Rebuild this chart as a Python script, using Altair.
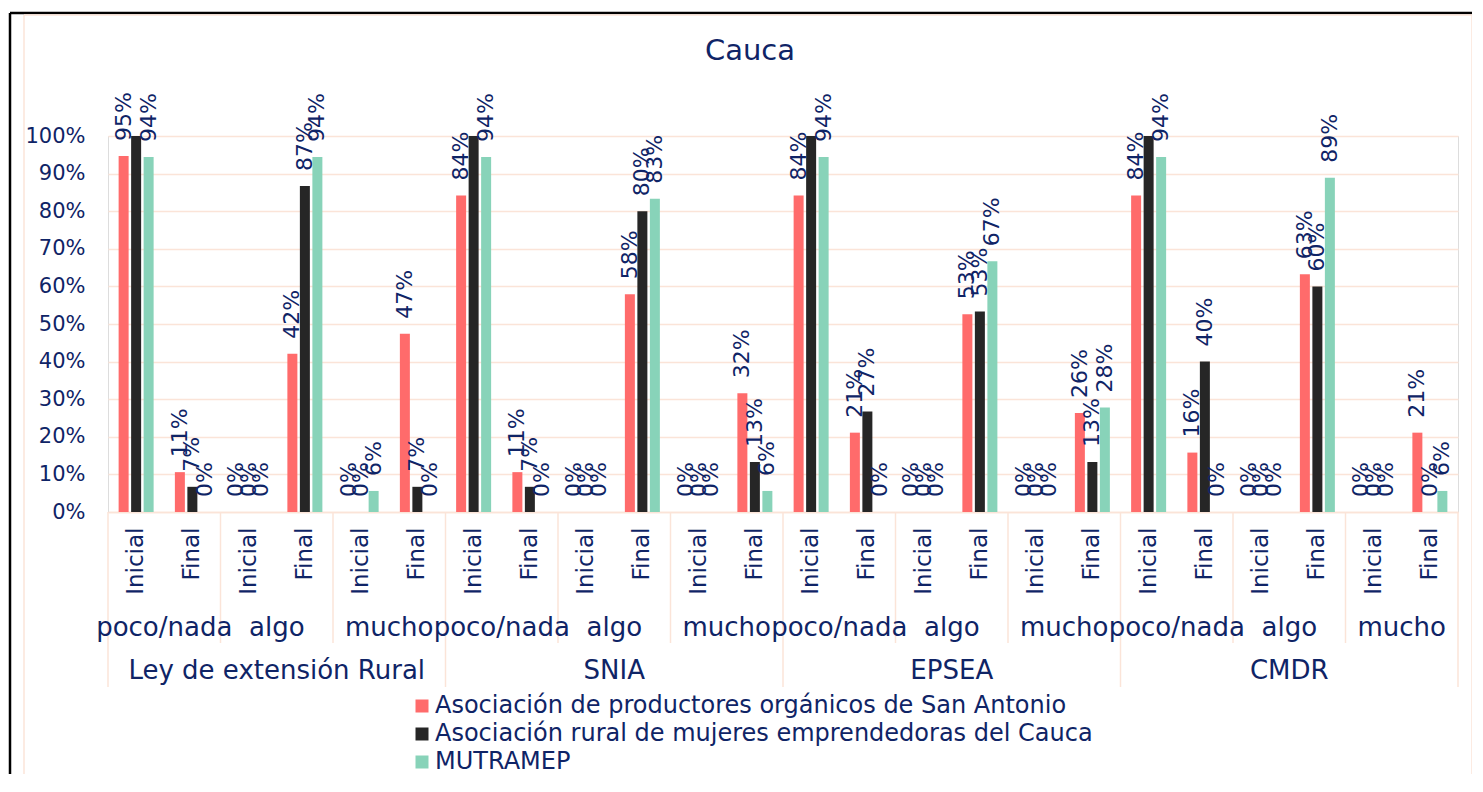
import altair as alt
import pandas as pd

# ---------------- data ----------------
chart_title = "Cauca"
groups = ["Ley de extensión Rural", "SNIA", "EPSEA", "CMDR"]
levels = ["poco/nada", "algo", "mucho"]
stages = ["Inicial", "Final"]
series_names = [
    "Asociación de productores orgánicos de San Antonio",
    "Asociación rural de mujeres emprendedoras del Cauca",
    "MUTRAMEP",
]
series_colors = ["#ff6b6b", "#262626", "#88d3b9"]

# order: group -> level -> stage (Inicial, Final)
san_antonio = [0.947, 0.106, 0.0, 0.421, 0.0, 0.474,
               0.842, 0.106, 0.0, 0.579, 0.0, 0.316,
               0.842, 0.211, 0.0, 0.526, 0.0, 0.263,
               0.842, 0.158, 0.0, 0.632, 0.0, 0.211]
mujeres_cauca = [1.0, 0.067, 0.0, 0.867, 0.0, 0.067,
                 1.0, 0.067, 0.0, 0.800, 0.0, 0.133,
                 1.0, 0.267, 0.0, 0.533, 0.0, 0.133,
                 1.0, 0.400, 0.0, 0.600, 0.0, 0.0]
mutramep = [0.944, 0.0, 0.0, 0.944, 0.056, 0.0,
            0.944, 0.0, 0.0, 0.833, 0.0, 0.056,
            0.944, 0.0, 0.0, 0.667, 0.0, 0.278,
            0.944, 0.0, 0.0, 0.889, 0.0, 0.056]
y_ticks = [0, 0.1, 0.2, 0.3, 0.4, 0.5, 0.6, 0.7, 0.8, 0.9, 1.0]

# ---------------- style ----------------
W, H = 1350, 376
NAVY = "#0f2466"
PEACH = "#fbe4d8"
FONT = "DejaVu Sans"

keys = [f"{g}|{l}|{s}" for g in groups for l in levels for s in stages]

rows = []
for name, vals in zip(series_names, [san_antonio, mujeres_cauca, mutramep]):
    for k, v in zip(keys, vals):
        rows.append({"cat": k, "serie": name, "valor": v})
bars_df = pd.DataFrame(rows)

x_axis = alt.Axis(
    title=None, labelExpr="split(datum.value, '|')[2]", labelAngle=270,
    labelAlign="right", labelBaseline="middle", labelPadding=15,
    labelFontSize=23, labelColor=NAVY, labelFont=FONT, ticks=False,
    domainColor=PEACH, domainWidth=1.5, grid=False, labelOverlap=False,
)
x_scale = alt.Scale(paddingInner=0, paddingOuter=0)


def x_enc(bp=0.5):
    return alt.X("cat:N", sort=keys, scale=x_scale, axis=x_axis, bandPosition=bp)


y_axis = alt.Axis(title=None, format=".0%", values=y_ticks,
                  labelFontSize=21, labelColor=NAVY, labelFont=FONT,
                  ticks=False, domain=False, labelPadding=23,
                  labelOverlap=False, gridColor=PEACH, gridWidth=1.5)
y_enc = alt.Y("valor:Q", scale=alt.Scale(domain=[0, 1]), axis=y_axis)

offset = alt.XOffset("serie:N", sort=series_names,
                     scale=alt.Scale(paddingInner=0.2, paddingOuter=0.85))
color = alt.Color(
    "serie:N", sort=series_names,
    scale=alt.Scale(domain=series_names, range=series_colors),
    legend=alt.Legend(title=None, orient="none", legendX=302, legendY=558,
                      direction="vertical", labelFontSize=24, labelColor=NAVY,
                      labelFont=FONT, symbolType="square", symbolSize=169,
                      symbolStrokeWidth=0, rowPadding=4, labelLimit=1000,
                      symbolOpacity=1, labelOffset=1),
)

bars = alt.Chart(bars_df).mark_bar().encode(
    x=alt.X("cat:N", sort=keys, scale=x_scale, axis=x_axis),
    xOffset=offset, y=y_enc, color=color)

labels = alt.Chart(bars_df).transform_filter("datum.valor < 0.995").mark_text(
    angle=270, align="left", baseline="middle", dx=15, fontSize=22,
    color=NAVY, font=FONT,
).encode(x=alt.X("cat:N", sort=keys, scale=x_scale, axis=x_axis),
         xOffset=offset, y=y_enc,
         text=alt.Text("valor:Q", format=".0%"))

sub_df = pd.DataFrame([{"cat": f"{g}|{l}|Final", "txt": l} for g in groups for l in levels])
sub_text = alt.Chart(sub_df).mark_text(fontSize=26, color=NAVY, font=FONT, baseline="middle").encode(
    x=x_enc(0), y=alt.value(H + 116), text="txt:N")

grp_df = pd.DataFrame([{"cat": f"{g}|algo|Final", "txt": g} for g in groups])
grp_text = alt.Chart(grp_df).mark_text(fontSize=26, color=NAVY, font=FONT, baseline="middle").encode(
    x=x_enc(0), y=alt.value(H + 159), text="txt:N")

short_df = pd.DataFrame([{"cat": f"{g}|{l}|Inicial"} for g in groups for l in ["algo", "mucho"]])
long_df = pd.DataFrame([{"cat": f"{g}|poco/nada|Inicial"} for g in groups])
end_df = pd.DataFrame([{"cat": keys[-1]}])

sep_short = alt.Chart(short_df).mark_rule(color=PEACH, strokeWidth=1.5).encode(
    x=x_enc(0), y=alt.value(H), y2=alt.value(H + 131))
sep_long = alt.Chart(long_df).mark_rule(color=PEACH, strokeWidth=1.5).encode(
    x=x_enc(0), y=alt.value(H), y2=alt.value(H + 175))
sep_end = alt.Chart(end_df).mark_rule(color=PEACH, strokeWidth=1.5).encode(
    x=x_enc(1), y=alt.value(H), y2=alt.value(H + 175))

title_df = pd.DataFrame({"txt": [chart_title]})
title_mark = alt.Chart(title_df).mark_text(
    fontSize=29, color=NAVY, font=FONT, baseline="middle", align="center"
).encode(x=alt.value(642), y=alt.value(-85), text="txt:N")

frame_df = pd.DataFrame({"k": [0]})
frame = [
    alt.Chart(frame_df).mark_rule(color="black", strokeWidth=2.5).encode(
        x=alt.value(-98), y=alt.value(-123), y2=alt.value(660)),
    alt.Chart(frame_df).mark_rule(color="black", strokeWidth=2.5).encode(
        x=alt.value(-98), x2=alt.value(1370), y=alt.value(-123)),
    alt.Chart(frame_df).mark_rule(color=PEACH, strokeWidth=1.5).encode(
        x=alt.value(-84), y=alt.value(-121), y2=alt.value(660)),
    alt.Chart(frame_df).mark_rule(color=PEACH, strokeWidth=1.5).encode(
        x=alt.value(-84), x2=alt.value(1364), y=alt.value(-121)),
    alt.Chart(frame_df).mark_rule(color=PEACH, strokeWidth=1.5).encode(
        x=alt.value(1364), y=alt.value(-121), y2=alt.value(660)),
]

chart = alt.layer(
    *frame, sep_short, sep_long, sep_end, bars, labels, sub_text, grp_text, title_mark
).properties(
    width=W, height=H,
    autosize=alt.AutoSizeParams(type="none"),
    padding={"left": 100, "top": 128, "right": 14, "bottom": 262},
).configure_view(stroke=None).configure(background="white")

chart.save("out.html", embed_options={"renderer": "svg", "actions": False})
